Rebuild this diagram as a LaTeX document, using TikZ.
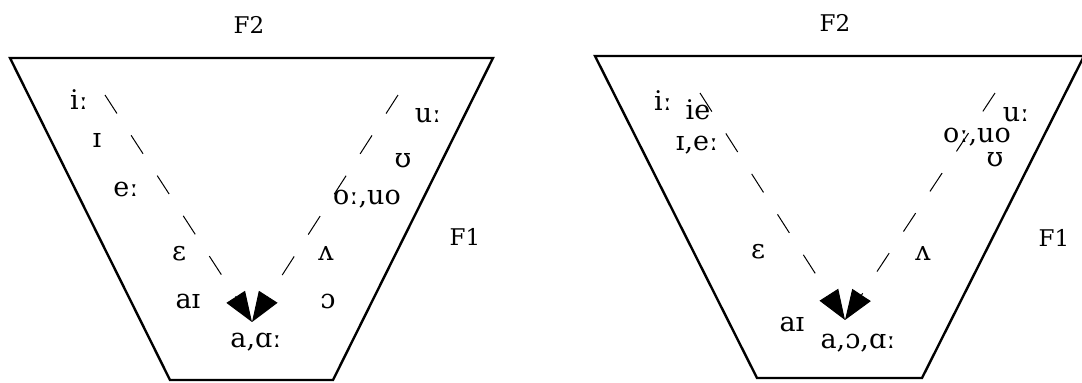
\documentclass[tikz,border=0pt]{standalone}
\usepackage{fontspec}
\setmainfont{DejaVu Serif}
\usetikzlibrary{arrows.meta}

\begin{document}
\begin{tikzpicture}[x=0.5pt, y=-0.5pt, >={Triangle[length=15pt, width=11pt]},
  chart/.style={line width=1.2pt, line join=miter},
  glide/.style={->, line width=0.5pt, dash pattern=on 11pt off 13pt},
  vowel/.style={font=\fontsize{13.5}{15}\selectfont, inner sep=0pt},
  formant/.style={font=\fontsize{11.5}{13}\selectfont, inner sep=0pt}]
  \useasboundingbox (0,0) rectangle (1082,382);

  % ---- Left chart ----
  \draw[chart] (10,58) -- (493,58) -- (333,380) -- (170,380) -- cycle;
  \node[formant] (lF2) at (249,25)  {F2};
  \node[formant] (lF1) at (465,237) {F1};

  \node[vowel] (lii) at (79,100)  {iː};
  \node[vowel] (lI)  at (97,140)  {ɪ};
  \node[vowel] (lee) at (126,189) {eː};
  \node[vowel] (lE)  at (179,254) {ɛ};
  \node[vowel] (laI) at (188,301) {aɪ};
  \node[vowel] (laa) at (256,342) {a,ɑː};
  \node[vowel] (luu) at (428,116) {uː};
  \node[vowel] (lU)  at (403,161) {ʊ};
  \node[vowel] (loo) at (367,199) {oː,uo};
  \node[vowel] (lV)  at (326,253) {ʌ};
  \node[vowel] (lO)  at (328,301) {ɔ};

  \coordinate (lfront) at (105,95);
  \coordinate (lback)  at (398,95);
  \coordinate (ltip)   at (252,322);
  \draw[glide] (lfront) -- (ltip);
  \draw[glide] (lback) -- (ltip);

  % ---- Right chart ----
  \draw[chart] (595,56) -- (1084,56) -- (922,378) -- (757,378) -- cycle;
  \node[formant] (rF2) at (835,23)   {F2};
  \node[formant] (rF1) at (1054,238) {F1};

  \node[vowel] (rii)  at (663,101) {iː};
  \node[vowel] (rie)  at (698,110) {ie};
  \node[vowel] (rIe)  at (697,145) {ɪ,eː};
  \node[vowel] (rE)   at (758,252) {ɛ};
  \node[vowel] (raI)  at (792,324) {aɪ};
  \node[vowel] (raOa) at (858,343) {a,ɔ,ɑː};
  \node[vowel] (ruu)  at (1016,115) {uː};
  \node[vowel] (roo)  at (977,137) {oː,uo};
  \node[vowel] (rU)   at (995,160) {ʊ};
  \node[vowel] (rV)   at (923,253) {ʌ};

  \coordinate (rfront) at (700,93);
  \coordinate (rback)  at (995,93);
  \coordinate (rtip)   at (845,320);
  \draw[glide] (rfront) -- (rtip);
  \draw[glide] (rback) -- (rtip);
\end{tikzpicture}
\end{document}
